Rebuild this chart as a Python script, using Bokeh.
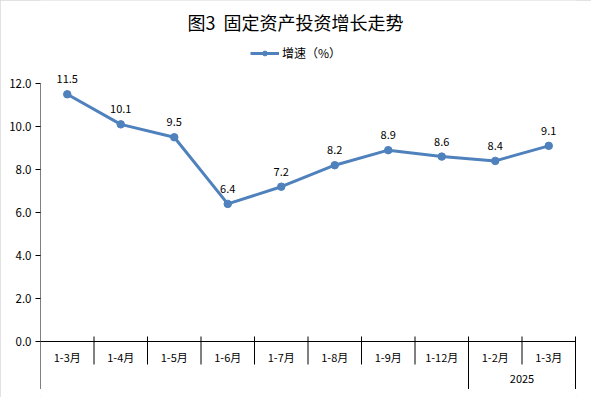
from bokeh.plotting import figure
from bokeh.models import (Range1d, FixedTicker, NumeralTickFormatter, LabelSet,
                          ColumnDataSource, Legend, LegendItem, Label)
from bokeh.core.properties import value
from bokeh.embed import file_html
from bokeh.resources import INLINE

# ---------------- data ----------------
title_text = "图3  固定资产投资增长走势"
series_name = "增速（%）"
categories = ["1-3月", "1-4月", "1-5月", "1-6月", "1-7月", "1-8月",
              "1-9月", "1-12月", "1-2月", "1-3月"]
growth = [11.5, 10.1, 9.5, 6.4, 7.2, 8.2, 8.9, 8.6, 8.4, 9.1]
year_labels = ["", "2025"]
year_counts = [8, 2]
y_ticks = [0, 2, 4, 6, 8, 10, 12]

# ---------------- layout / style ----------------
BLUE = "#4f81bd"
FONT = "Noto Sans CJK SC"
W, H = 591, 397
LEFT = 40            # frame left (px)
ZERO_PX = 341        # pixel row of value 0
PX = 21.5            # pixels per value unit
CAT_PX = 53.5        # pixels per category
n = len(categories)
y_top = ZERO_PX / PX
y_bottom = -(H - ZERO_PX) / PX
axis_bottom = -47.5 / PX

p = figure(width=W, height=H, output_backend="svg", toolbar_location=None,
           x_range=Range1d(0, n + 1 / CAT_PX), y_range=Range1d(y_bottom, y_top),
           min_border_left=LEFT, min_border_right=W - LEFT - int(n * CAT_PX + 1),
           min_border_top=0, min_border_bottom=0, x_axis_location=None, tools="")
p.outline_line_color = None
p.xgrid.visible = False
p.ygrid.visible = False
p.background_fill_color = "white"
p.border_fill_color = "white"

ax = p.yaxis[0]
ax.ticker = FixedTicker(ticks=y_ticks)
ax.formatter = NumeralTickFormatter(format="0.0")
ax.major_label_text_font = FONT
ax.major_label_text_font_size = "11.5px"
ax.major_label_text_color = "#000000"
ax.major_tick_out = 5
ax.major_tick_in = 0
ax.minor_tick_out = 0
ax.minor_tick_in = 0
ax.axis_line_color = None
ax.major_tick_line_color = "#000000"
ax.major_label_standoff = 4

# value-axis line (from top tick down to bottom of the category area)
p.segment(x0=[0], y0=[max(y_ticks)], x1=[0], y1=[axis_bottom],
          line_color="#000000", line_width=1)

# category axis base line
p.segment(x0=[0], y0=[0], x1=[n], y1=[0], line_color="#000000", line_width=1)

# category separators
bounds = list(range(1, n + 1))
p.segment(x0=bounds, y0=[5 / PX] * len(bounds), x1=bounds, y1=[-23 / PX] * len(bounds),
          line_color="#000000", line_width=1)

# year-group separators and labels
gx, gl, gpos = [], [], []
start = 0
for lab, cnt in zip(year_labels, year_counts):
    end = start + cnt
    if start > 0:
        gx.append(start)
    gx.append(end)
    if lab:
        gl.append(lab)
        gpos.append(start + cnt / 2)
    start = end
gx = sorted(set(gx))
p.segment(x0=gx, y0=[0] * len(gx), x1=gx, y1=[axis_bottom] * len(gx),
          line_color="#000000", line_width=1)

xs = [i + 0.5 for i in range(n)]
p.text(x=xs, y=[-15 / PX] * n, text=categories, text_font=value(FONT),
       text_font_size="11px", text_align="center", text_baseline="middle",
       text_color="#000000")
p.text(x=gpos, y=[-37 / PX] * len(gpos), text=gl, text_font=value(FONT),
       text_font_size="11px", text_align="center", text_baseline="middle",
       text_color="#000000")

# series
src = ColumnDataSource(dict(x=xs, y=growth, lab=[f"{v:.1f}" for v in growth]))
r_line = p.line("x", "y", source=src, line_color=BLUE, line_width=3)
r_pts = p.scatter("x", "y", source=src, size=7.5, fill_color=BLUE, line_color=BLUE)

labels = LabelSet(x="x", y="y", text="lab", source=src, y_offset=11,
                  text_align="center", text_baseline="bottom",
                  text_font=value(FONT), text_font_size="11px", text_color="#000000")
p.add_layout(labels)

legend = Legend(items=[LegendItem(label=series_name, renderers=[r_line, r_pts])],
                location=(210, H - 61), orientation="horizontal",
                glyph_width=29, glyph_height=12, label_height=12,
                label_standoff=3, padding=0, margin=0, spacing=0,
                border_line_color=None, background_fill_alpha=0,
                label_text_font=FONT, label_text_font_size="12px",
                label_text_color="#000000")
p.add_layout(legend)

title = Label(x=(295 - LEFT) / CAT_PX, y=(ZERO_PX - 21.5) / PX,
              text=title_text.replace(" ", "\u00a0"),
              text_align="center", text_baseline="middle",
              text_font=FONT, text_font_size="18px", text_color="#000000")
p.add_layout(title)

p.styles = {"outline": "1px solid #d9d9d9", "outline-offset": "-1px"}

open("out.html", "w").write(file_html(p, INLINE))
